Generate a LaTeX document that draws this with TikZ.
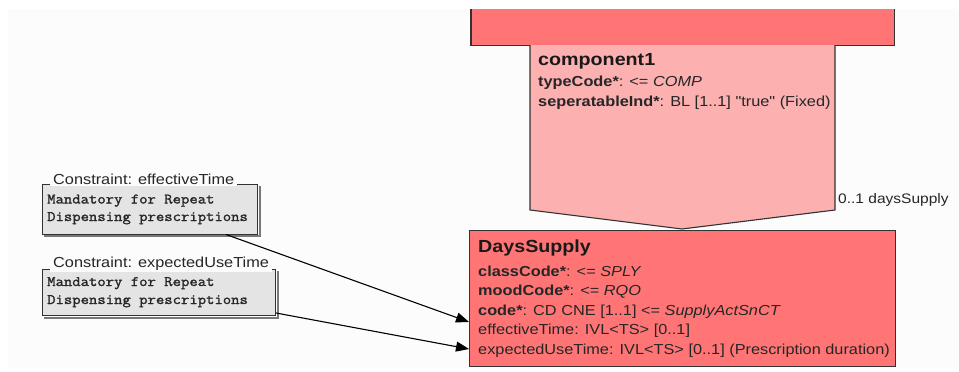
\documentclass[tikz,border=0pt]{standalone}
\usepackage{fontspec}
\setmainfont[FakeStretch=1.125]{Liberation Sans}
\newfontfamily\plainsans[FakeStretch=1.125]{Liberation Sans}
\newfontfamily\cmono[FakeStretch=1.12,FakeBold=1.6]{Latin Modern Mono}
\usetikzlibrary{calc,arrows.meta}
\definecolor{bgc}{RGB}{252,252,252}
\definecolor{redc}{RGB}{255,117,117}
\definecolor{pinkc}{RGB}{252,176,176}
\definecolor{cfill}{RGB}{228,228,228}
\definecolor{edgec}{RGB}{50,50,50}
\definecolor{shc}{RGB}{120,120,120}
\begin{document}
\begin{tikzpicture}[x=1pt,y=-1pt,
  txt/.style={anchor=base west,inner sep=0pt,font=\fontsize{14.5}{17}\selectfont,text=black!85},
  ttl/.style={anchor=base west,inner sep=0pt,font=\fontsize{17.5}{20}\selectfont\bfseries,text=black!90},
  mono/.style={anchor=base west,inner sep=0pt,font=\fontsize{14.5}{16}\selectfont\cmono,text=black!85},
  cbox/.style={draw=edgec,line width=1pt,fill=cfill,anchor=north west,inner sep=0pt},
  ctitle/.style={anchor=base west,fill=bgc,inner xsep=3pt,inner ysep=2pt,font=\fontsize{14.5}{17}\selectfont,text=black!85},
  classbox/.style={draw=edgec,line width=1.1pt,fill=redc,anchor=north west,inner sep=0pt},
  arr/.style={draw=black,line width=1.1pt,-{Triangle[length=13pt,width=10pt]}},
  shline/.style={draw=shc,line width=2pt}
]
\useasboundingbox (0,0) rectangle (959,372);
\fill[bgc] (8,9) rectangle (959,368);

% top class box (cut off)
\node[fill=redc,anchor=north west,inner sep=0pt,minimum width=423pt,minimum height=36pt] (top) at (471,9) {};
\draw[edgec,line width=1.1pt] (top.north west) -- (top.south west) -- (top.south east) -- (top.north east);

% component1 association shape
\coordinate (apex) at (682,229);
\filldraw[fill=pinkc,draw=edgec,line width=1.1pt] (530,45) -- (530,210) -- (apex) -- (835,210) -- (835,45);
\node[ttl] (comp) at (538,65) {component1};
\node[txt] (compa) at (538,86) {\textbf{typeCode*}: <= \textit{COMP}};
\node[txt] (compb) at (538,106) {\textbf{seperatableInd*}: BL [1..1] {\plainsans"}true{\plainsans"} (Fixed)};
\node[anchor=base west,inner sep=0pt,font=\fontsize{13.8}{16}\selectfont,text=black!85] (mult) at (838,203.5) {0..1 daysSupply};

% DaysSupply class
\node[classbox,minimum width=426pt,minimum height=136pt] (ds) at (469,230) {};
\node[ttl] (dst) at (478,252.5) {DaysSupply};
\node[txt] (ds1) at (478,276) {\textbf{classCode*}: <= \textit{SPLY}};
\node[txt] (ds2) at (478,295.5) {\textbf{moodCode*}: <= \textit{RQO}};
\node[txt] (ds3) at (478,315) {\textbf{code*}: CD CNE [1..1] <= \textit{SupplyActSnCT}};
\node[txt] (ds4) at (478,334.5) {effectiveTime: IVL<TS> [0..1]};
\node[txt] (ds5) at (478,354) {expectedUseTime: IVL<TS> [0..1] (Prescription duration)};

% constraint 1
\node[cbox,minimum width=215pt,minimum height=50pt] (c1) at (42,183.5) {};
\draw[shline] ($(c1.south west)+(2,1.5)$) -- ($(c1.south east)+(1.5,1.5)$) -- ($(c1.north east)+(1.5,2)$);
\node[ctitle] (c1t) at (50,184) {Constraint: effectiveTime};
\node[mono] (c1a) at (47,203.5) {Mandatory for Repeat};
\node[mono] (c1b) at (47,221) {Dispensing prescriptions};

% constraint 2
\node[cbox,minimum width=233pt,minimum height=46pt] (c2) at (42,269) {};
\draw[shline] ($(c2.south west)+(2,1.5)$) -- ($(c2.south east)+(1.5,1.5)$) -- ($(c2.north east)+(1.5,2)$);
\node[ctitle] (c2t) at (50,267) {Constraint: expectedUseTime};
\node[mono] (c2a) at (47,286) {Mandatory for Repeat};
\node[mono] (c2b) at (47,304) {Dispensing prescriptions};

% connectors
\draw[arr] ($(c1.south west)+(184,0)$) -- ($(ds.north west)+(0,92)$);
\draw[arr] ($(c2.south east)+(0,-3)$) -- ($(ds.north west)+(0,119)$);
\end{tikzpicture}
\end{document}
